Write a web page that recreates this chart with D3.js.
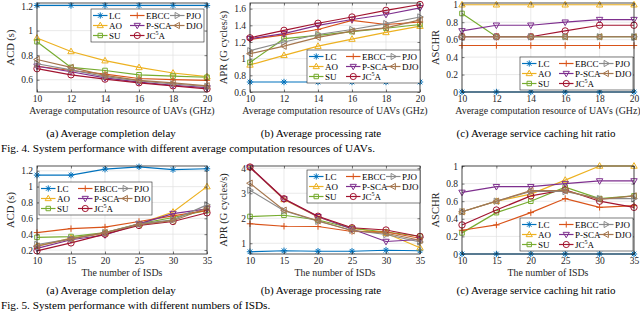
<!DOCTYPE html>
<html>
<head>
<meta charset="utf-8">
<script src="https://cdn.jsdelivr.net/npm/d3@7"></script>
<style>
   body { margin: 0; background: #fff; }
   svg { display: block; font-family: "Liberation Serif", "Times New Roman", serif; }
</style>
</head>
<body>
<svg id="chart" width="640" height="312"></svg>
<script>
/*global d3*/
// series in legend order (column-wise): LC, AO, SU, EBCC, P-SCA, JC5A, PJO, DJO
var seriesNames = ["LC", "AO", "SU", "EBCC", "P-SCA", "JC5A", "PJO", "DJO"];
var seriesColors = ["#0072BD", "#EDB120", "#77AC30", "#D95319", "#7E2F8E", "#A2142F", "#8a8a8a", "#A5764E"];
var seriesMarkers = ["star", "up", "square", "plus", "down", "circle", "right", "left"];

var xUav = [10, 12, 14, 16, 18, 20];
var xIsd = [10, 15, 20, 25, 30, 35];

// Fig. 4 (a) ACD vs computation resource
var acdUav = [
   [1.205, 1.205, 1.205, 1.205, 1.205, 1.205],
   [0.94, 0.83, 0.755, 0.70, 0.655, 0.625],
   [0.91, 0.70, 0.675, 0.64, 0.63, 0.62],
   [0.71, 0.675, 0.645, 0.61, 0.60, 0.595],
   [0.71, 0.665, 0.615, 0.58, 0.555, 0.535],
   [0.69, 0.64, 0.605, 0.575, 0.55, 0.525],
   [0.73, 0.68, 0.625, 0.59, 0.565, 0.545],
   [0.765, 0.70, 0.635, 0.595, 0.575, 0.55]
];
// Fig. 4 (b) APR vs computation resource
var aprUav = [
   [0.72, 0.72, 0.72, 0.72, 0.72, 0.72],
   [0.925, 1.04, 1.15, 1.235, 1.315, 1.39],
   [0.955, 1.24, 1.28, 1.325, 1.365, 1.41],
   [1.23, 1.285, 1.35, 1.46, 1.41, 1.44],
   [1.24, 1.30, 1.40, 1.47, 1.53, 1.61],
   [1.25, 1.34, 1.425, 1.50, 1.58, 1.65],
   [1.095, 1.20, 1.29, 1.35, 1.42, 1.50],
   [1.06, 1.15, 1.255, 1.33, 1.37, 1.465]
];
// Fig. 4 (c) ASCHR vs computation resource
var aschrUav = [
   [0, 0, 0, 0, 0, 0],
   [1, 1, 1, 1, 1, 1],
   [0.9, 0.633, 0.633, 0.633, 0.633, 0.633],
   [0.533, 0.533, 0.533, 0.533, 0.533, 0.533],
   [0.70, 0.765, 0.765, 0.80, 0.83, 0.83],
   [0.633, 0.633, 0.633, 0.70, 0.765, 0.765],
   [0.633, 0.633, 0.633, 0.633, 0.633, 0.633],
   [0.633, 0.633, 0.633, 0.633, 0.633, 0.633]
];
// Fig. 5 (a) ACD vs number of ISDs
var acdIsd = [
   [1.145, 1.145, 1.22, 1.25, 1.215, 1.225],
   [0.25, 0.35, 0.41, 0.53, 0.68, 1.0],
   [0.36, 0.37, 0.42, 0.53, 0.61, 0.70],
   [0.42, 0.47, 0.49, 0.56, 0.63, 0.70],
   [0.22, 0.33, 0.39, 0.53, 0.66, 0.72],
   [0.19, 0.29, 0.40, 0.51, 0.56, 0.67],
   [0.27, 0.34, 0.42, 0.53, 0.58, 0.77],
   [0.25, 0.34, 0.42, 0.52, 0.57, 0.73]
];
// Fig. 5 (b) APR vs number of ISDs
var aprIsd = [
   [0.66, 0.70, 0.68, 0.68, 0.72, 0.70],
   [4.03, 2.75, 2.05, 1.60, 1.40, 0.82],
   [2.07, 2.12, 1.93, 1.60, 1.45, 1.28],
   [1.78, 1.68, 1.67, 1.47, 1.45, 1.20],
   [4.03, 2.77, 2.06, 1.57, 1.07, 1.15],
   [4.05, 2.78, 2.08, 1.62, 1.53, 1.27],
   [3.12, 2.30, 1.88, 1.52, 1.35, 1.05],
   [3.40, 2.32, 1.90, 1.50, 1.40, 1.12]
];
// Fig. 5 (c) ASCHR vs number of ISDs
var aschrIsd = [
   [0, 0, 0, 0, 0, 0],
   [0.48, 0.60, 0.68, 0.84, 1.0, 1.0],
   [0.24, 0.47, 0.60, 0.76, 0.63, 0.66],
   [0.27, 0.33, 0.47, 0.63, 0.53, 0.55],
   [0.70, 0.765, 0.765, 0.80, 0.83, 0.83],
   [0.33, 0.50, 0.66, 0.73, 0.60, 0.53],
   [0.48, 0.60, 0.71, 0.71, 0.63, 0.63],
   [0.48, 0.60, 0.72, 0.72, 0.62, 0.66]
];

var yTicksAcdUav = [0.6, 0.8, 1, 1.2];
var yTicksApr = [0.6, 0.8, 1, 1.2, 1.4, 1.6];
var yTicksRatio = [0, 0.2, 0.4, 0.6, 0.8, 1];
var yTicksAcdIsd = [0.2, 0.4, 0.6, 0.8, 1, 1.2];
var yTicksAprIsd = [1, 2, 3, 4];

var xLabelUav = "Average computation resource of UAVs (GHz)";
var xLabelIsd = "The number of ISDs";
var subCaptions = ["(a) Average completion delay", "(b) Average processing rate", "(c) Average service caching hit ratio"];
var figCaptions = ["Fig. 4.  System performance with different average computation resources of UAVs.",
   "Fig. 5.  System performance with different numbers of ISDs."];

var plotLayout = (function () {
   "use strict";
   var svg = d3.select("#chart"),
      cols = [[37, 207], [250, 420], [462, 634]],
      rows = [[3, 92], [166, 254]],
      panels;

   panels = [
      {col: 0, row: 0, xs: xUav, data: acdUav, yd: [0.5, 1.225], yt: yTicksAcdUav, ylab: "ACD (s)", xlab: xLabelUav, leg: [91, 9]},
      {col: 1, row: 0, xs: xUav, data: aprUav, yd: [0.6, 1.668], yt: yTicksApr, ylab: "APR (G cycles/s)", xlab: xLabelUav, leg: [307, 50]},
      {col: 2, row: 0, xs: xUav, data: aschrUav, yd: [0, 1.02], yt: yTicksRatio, ylab: "ASCHR", xlab: xLabelUav, leg: [520, 57]},
      {col: 0, row: 1, xs: xIsd, data: acdIsd, yd: [0.15, 1.26], yt: yTicksAcdIsd, ylab: "ACD (s)", xlab: xLabelIsd, leg: [39, 182]},
      {col: 1, row: 1, xs: xIsd, data: aprIsd, yd: [0.57, 4.09], yt: yTicksAprIsd, ylab: "APR (G cycles/s)", xlab: xLabelIsd, leg: [307, 170]},
      {col: 2, row: 1, xs: xIsd, data: aschrIsd, yd: [0, 1.0], yt: yTicksRatio, ylab: "ASCHR", xlab: xLabelIsd, leg: [520, 218]}
   ];

   function markerPath(type, r) {
      var k = r * 0.72;
      switch (type) {
      case "star":
         return "M" + (-r) + ",0H" + r + "M0," + (-r) + "V" + r +
            "M" + (-k) + "," + (-k) + "L" + k + "," + k + "M" + (-k) + "," + k + "L" + k + "," + (-k);
      case "plus":
         return "M" + (-r) + ",0H" + r + "M0," + (-r) + "V" + r;
      case "up":
         return "M0," + (-r * 1.05) + "L" + r + "," + (r * 0.7) + "L" + (-r) + "," + (r * 0.7) + "Z";
      case "down":
         return "M0," + (r * 1.05) + "L" + r + "," + (-r * 0.7) + "L" + (-r) + "," + (-r * 0.7) + "Z";
      case "right":
         return "M" + (r * 1.05) + ",0L" + (-r * 0.7) + "," + (-r) + "L" + (-r * 0.7) + "," + r + "Z";
      case "left":
         return "M" + (-r * 1.05) + ",0L" + (r * 0.7) + "," + (-r) + "L" + (r * 0.7) + "," + r + "Z";
      case "square":
         return "M" + (-k) + "," + (-k) + "H" + k + "V" + k + "H" + (-k) + "Z";
      default:
         return d3.symbol().type(d3.symbolCircle).size(Math.PI * r * r)();
      }
   }

   function fmt(v) {
      return String(+v.toFixed(2));
   }

   function drawLegend(g, left, top) {
      var colX = [2, 39, 79],
         rowH = 10,
         leg = g.append("g").attr("transform", "translate(" + left + "," + top + ")");

      leg.append("rect")
         .attr("width", 113).attr("height", 33)
         .attr("fill", "#fff").attr("stroke", "#262626").attr("stroke-width", 0.6);

      seriesNames.forEach(function (name, i) {
         var c = Math.floor(i / 3),
            r = i % 3,
            item = leg.append("g")
               .attr("transform", "translate(" + colX[c] + "," + (6.5 + r * rowH) + ")"),
            txt;

         item.append("line")
            .attr("x1", 0).attr("x2", 14.5)
            .attr("stroke", seriesColors[i]).attr("stroke-width", 1.2);
         item.append("path")
            .attr("transform", "translate(7.25,0)")
            .attr("d", markerPath(seriesMarkers[i], 3.1))
            .attr("fill", "none").attr("stroke", seriesColors[i]).attr("stroke-width", 1);

         txt = item.append("text")
            .attr("x", 16).attr("y", 3.1)
            .attr("font-size", 9).attr("fill", "#000");
         //superscript 5 in JC5A
         if (name === "JC5A") {
            txt.append("tspan").text("JC");
            txt.append("tspan").attr("dy", -3.5).attr("font-size", 6).text("5");
            txt.append("tspan").attr("dy", 3.5).text("A");
         } else {
            txt.text(name);
         }
      });
   }

   function drawPanel(p) {
      var x0 = cols[p.col][0], x1 = cols[p.col][1],
         y0 = rows[p.row][0], y1 = rows[p.row][1],
         xScale = d3.scaleLinear().domain([p.xs[0], p.xs[p.xs.length - 1]]).range([x0, x1]),
         yScale = d3.scaleLinear().domain(p.yd).range([y1, y0]),
         g = svg.append("g"),
         lineGen = d3.line()
            .x(function (d, i) { return xScale(p.xs[i]); })
            .y(function (d) { return yScale(d); });

      //grid
      g.append("g").selectAll("line.gx").data(p.xs).enter().append("line")
         .attr("x1", xScale).attr("x2", xScale).attr("y1", y0).attr("y2", y1)
         .attr("stroke", "#e1e1e1").attr("stroke-width", 0.7);
      g.append("g").selectAll("line.gy").data(p.yt).enter().append("line")
         .attr("y1", yScale).attr("y2", yScale).attr("x1", x0).attr("x2", x1)
         .attr("stroke", "#e1e1e1").attr("stroke-width", 0.7);

      //series
      p.data.forEach(function (vals, i) {
         var s = g.append("g");
         s.append("path")
            .attr("d", lineGen(vals))
            .attr("fill", "none").attr("stroke", seriesColors[i]).attr("stroke-width", 1.2);
         s.selectAll("path.m").data(vals).enter().append("path")
            .attr("transform", function (d, j) {
               return "translate(" + xScale(p.xs[j]) + "," + yScale(d) + ")";
            })
            .attr("d", markerPath(seriesMarkers[i], 3.2))
            .attr("fill", "none").attr("stroke", seriesColors[i]).attr("stroke-width", 1);
      });

      //axes with inward ticks on all four sides
      g.append("g").attr("transform", "translate(0," + y1 + ")")
         .call(d3.axisBottom(xScale).tickValues(p.xs).tickSizeInner(-2.5).tickSizeOuter(0).tickPadding(3.5).tickFormat(fmt));
      g.append("g").attr("transform", "translate(0," + y0 + ")")
         .call(d3.axisTop(xScale).tickValues(p.xs).tickSizeInner(-2.5).tickSizeOuter(0).tickFormat(""));
      g.append("g").attr("transform", "translate(" + x0 + ",0)")
         .call(d3.axisLeft(yScale).tickValues(p.yt).tickSizeInner(-2.5).tickSizeOuter(0).tickPadding(4).tickFormat(fmt));
      g.append("g").attr("transform", "translate(" + x1 + ",0)")
         .call(d3.axisRight(yScale).tickValues(p.yt).tickSizeInner(-2.5).tickSizeOuter(0).tickFormat(""));

      g.selectAll(".domain").remove();
      g.selectAll(".tick line").attr("stroke", "#262626").attr("stroke-width", 0.6);
      g.selectAll(".tick text")
         .attr("font-family", "Liberation Serif, serif").attr("font-size", 9.5).attr("fill", "#262626");

      g.append("rect")
         .attr("x", x0).attr("y", y0).attr("width", x1 - x0).attr("height", y1 - y0)
         .attr("fill", "none").attr("stroke", "#262626").attr("stroke-width", 0.8);

      //axis titles
      g.append("text")
         .attr("x", (x0 + x1) / 2).attr("y", y1 + 21.5)
         .attr("text-anchor", "middle").attr("font-size", 9.9).attr("fill", "#262626")
         .text(p.xlab);
      g.append("text")
         .attr("transform", "translate(" + (x0 - 23) + "," + ((y0 + y1) / 2) + ") rotate(-90)")
         .attr("text-anchor", "middle").attr("font-size", 10.5).attr("fill", "#262626")
         .text(p.ylab);

      drawLegend(g, p.leg[0], p.leg[1]);
   }

   function drawCaptions() {
      var capX = [111, 321, 536],
         capY = [137, 294],
         figY = [151.5, 308.5];

      capY.forEach(function (cy, r) {
         subCaptions.forEach(function (t, c) {
            svg.append("text")
               .attr("x", capX[c]).attr("y", cy)
               .attr("text-anchor", "middle").attr("font-size", 11)
               .text(t);
         });
         svg.append("text")
            .attr("x", 1).attr("y", figY[r])
            .attr("font-size", 11.2)
            .text(figCaptions[r]);
      });
   }

   panels.forEach(drawPanel);
   drawCaptions();

   return {panels: panels};
}());
</script>
</body>
</html>
